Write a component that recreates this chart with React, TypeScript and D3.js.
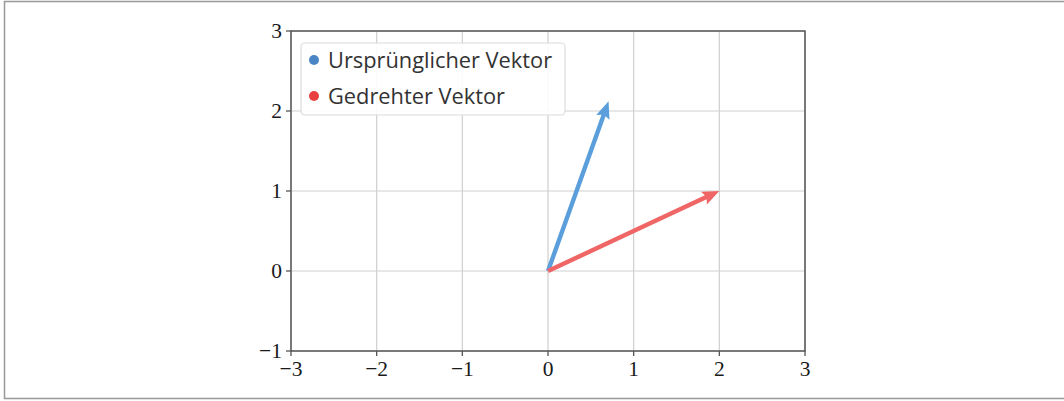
import React from "react";
import * as d3 from "d3";

// Vectors drawn from the origin
const seriesNames = ["Ursprünglicher Vektor", "Gedrehter Vektor"];
const vectorX = [0.707, 2.0];
const vectorY = [2.121, 1.0];
const arrowColors = ["#5a9fdc", "#f06666"];
const markerColors = ["#4a86c6", "#e8403f"];

const xTicks = [-3, -2, -1, 0, 1, 2, 3];
const yTicks = [-1, 0, 1, 2, 3];

const W = 1064;
const H = 401;
const plot = { left: 291, right: 805, top: 31, bottom: 351 };

const fmt = (v: number) => (v < 0 ? "\u2212" + Math.abs(v) : String(v));

function arrowPath(x0: number, y0: number, x1: number, y1: number) {
  const dx = x1 - x0;
  const dy = y1 - y0;
  const len = Math.hypot(dx, dy);
  const ux = dx / len;
  const uy = dy / len;
  const nx = -uy;
  const ny = ux;
  const shaft = 2.2; // half width of shaft
  const head = 7; // half width of head
  const headLen = 15;
  const bx = x1 - ux * headLen;
  const by = y1 - uy * headLen;
  const pts: [number, number][] = [
    [x0 + nx * shaft, y0 + ny * shaft],
    [bx + nx * shaft, by + ny * shaft],
    [bx - ux * 2 + nx * head, by - uy * 2 + ny * head],
    [x1, y1],
    [bx - ux * 2 - nx * head, by - uy * 2 - ny * head],
    [bx - nx * shaft, by - ny * shaft],
    [x0 - nx * shaft, y0 - ny * shaft],
  ];
  return d3.line()(pts) + "Z";
}

export default function App() {
  const x = d3.scaleLinear().domain([-3, 3]).range([plot.left, plot.right]);
  const y = d3.scaleLinear().domain([-1, 3]).range([plot.bottom, plot.top]);
  const tickFont = "'Liberation Serif', 'DejaVu Serif', serif";
  const legendFont = "'Open Sans', Lato, sans-serif";

  return (
    <svg
      width={W}
      height={H}
      style={{ position: "absolute", left: 0, top: 0, background: "#fff" }}
    >
      {/* outer frame */}
      <line x1={4} x2={W} y1={1.5} y2={1.5} stroke="#999" strokeWidth={1.5} />
      <line x1={4} x2={W} y1={398.5} y2={398.5} stroke="#999" strokeWidth={1.5} />
      <line x1={4.5} x2={4.5} y1={1} y2={399} stroke="#999" strokeWidth={1.5} />

      {/* grid */}
      {xTicks.map((t) => (
        <line key={"gx" + t} x1={x(t)} x2={x(t)} y1={plot.top} y2={plot.bottom} stroke="#cfcfcf" strokeWidth={1.2} />
      ))}
      {yTicks.map((t) => (
        <line key={"gy" + t} x1={plot.left} x2={plot.right} y1={y(t)} y2={y(t)} stroke="#cfcfcf" strokeWidth={1.2} />
      ))}

      {/* vectors */}
      {vectorX.map((vx, i) => (
        <path
          key={"v" + i}
          d={arrowPath(x(0), y(0), x(vx), y(vectorY[i]))}
          fill={arrowColors[i]}
        />
      ))}

      {/* spines */}
      <rect
        x={plot.left}
        y={plot.top}
        width={plot.right - plot.left}
        height={plot.bottom - plot.top}
        fill="none"
        stroke="#555"
        strokeWidth={1.5}
      />

      {/* ticks and labels */}
      {xTicks.map((t) => (
        <g key={"tx" + t}>
          <line x1={x(t)} x2={x(t)} y1={plot.bottom} y2={plot.bottom + 5} stroke="#555" strokeWidth={1.3} />
          <text x={x(t)} y={plot.bottom + 25} textAnchor="middle" fontFamily={tickFont} fontSize={21.5} fill="#1a1a1a">
            {fmt(t)}
          </text>
        </g>
      ))}
      {yTicks.map((t) => (
        <g key={"ty" + t}>
          <line x1={plot.left - 5} x2={plot.left} y1={y(t)} y2={y(t)} stroke="#555" strokeWidth={1.3} />
          <text x={plot.left - 9} y={y(t) + 7} textAnchor="end" fontFamily={tickFont} fontSize={21.5} fill="#1a1a1a">
            {fmt(t)}
          </text>
        </g>
      ))}

      {/* legend */}
      <rect x={301} y={43} width={264} height={72} rx={4} fill="#fff" fillOpacity={0.9} stroke="#dcdcdc" strokeWidth={1.2} />
      {seriesNames.map((name, i) => (
        <g key={"lg" + i}>
          <circle cx={314} cy={60 + i * 36} r={5} fill={markerColors[i]} />
          <text x={328} y={67.5 + i * 36} fontFamily={legendFont} fontSize={21.8} fill="#333">
            {name}
          </text>
        </g>
      ))}
    </svg>
  );
}
